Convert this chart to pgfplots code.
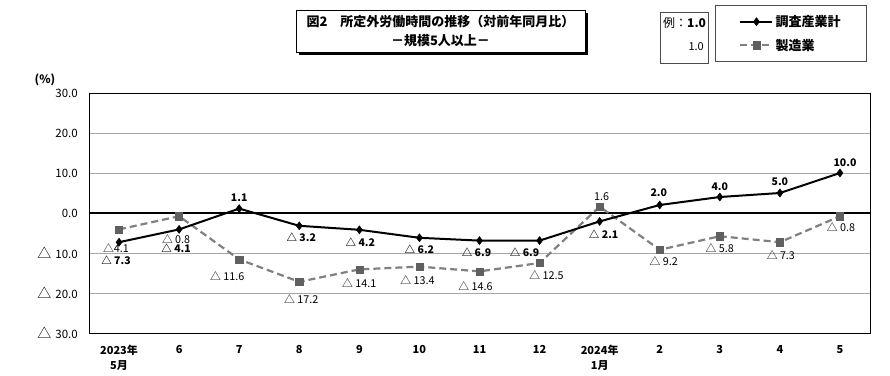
\documentclass[border=0pt]{standalone}
\usepackage{fontspec}
\setmainfont{Noto Sans CJK JP}
\usepackage{pgfplots}
\pgfplotsset{compat=1.18}
\usepackage{pgfplotstable}
\usetikzlibrary{shadows}

\definecolor{mfgline}{HTML}{808080}
\definecolor{mfgmark}{HTML}{606060}
\definecolor{gridc}{HTML}{A6A6A6}
\newcommand{\tri}{{\fontsize{14}{14}\selectfont △}}

\pgfplotstableread[col sep=comma]{
x,y,lab,dx,dy
0,-7.3,△ 7.3,-3,-18
1,-4.1,△ 4.1,-3,-19
2,1.1,1.1,0,11
3,-3.2,△ 3.2,2,-11.5
4,-4.2,△ 4.2,1,-12
5,-6.2,△ 6.2,0,-11
6,-6.9,△ 6.9,-3,-12
7,-6.9,△ 6.9,-15,-11.5
8,-2.1,△ 2.1,4,-12.5
9,2.0,2.0,-1,12.7
10,4.0,4.0,0,10.6
11,5.0,5.0,0,11
12,10.0,10.0,5,10.6
}\totaltab

\pgfplotstableread[col sep=comma]{
x,y,lab,dx,dy
0,-4.1,△4.1,-3,-19
1,-0.8,△ 0.8,-3,-23
2,-11.6,△ 11.6,-12,-17
3,-17.2,△ 17.2,2,-17
4,-14.1,△ 14.1,0,-14
5,-13.4,△ 13.4,-2,-14
6,-14.6,△ 14.6,-4,-15
7,-12.5,△ 12.5,7,-12.5
8,1.6,1.6,2,10
9,-9.2,△ 9.2,4,-11.5
10,-5.8,△ 5.8,0,-12
11,-7.3,△ 7.3,1,-12.5
12,-0.8,△ 0.8,1,-11
}\mfgtab

\begin{document}
\begin{tikzpicture}
\useasboundingbox[fill=white] (0pt,0pt) rectangle (890pt,375pt);
\begin{axis}[
  at={(89pt,42pt)}, anchor=south west,
  width=781pt, height=240pt, scale only axis,
  xmin=-0.5, xmax=12.5, ymin=-30, ymax=30,
  axis line style={black, line width=0.8pt},
  major tick length=0pt,
  xtick={0,...,12},
  xticklabels={{2023年\\5月},6,7,8,9,10,11,12,{2024年\\1月},2,3,4,5},
  xticklabel style={align=center, font=\bfseries\fontsize{11}{15}\selectfont, inner sep=0pt, yshift=-12pt},
  ytick={-30,-20,...,30},
  yticklabels={{\tri\kern4pt 30.0},{\tri\kern4pt 20.0},{\tri\kern4pt 10.0},0.0,10.0,20.0,30.0},
  yticklabel style={font=\fontsize{11.5}{13}\selectfont, inner sep=0pt, xshift=-11pt},
  ymajorgrids, major grid style={gridc, line width=0.7pt},
  extra y ticks={0}, extra y tick labels={},
  extra y tick style={grid=major, major grid style={black, line width=1.1pt}},
  legend style={at={(rel axis cs:0.8015,1.3667)}, anchor=north west,
    draw=black!70, line width=0.8pt, font=\bfseries\fontsize{13}{15}\selectfont,
    inner xsep=24pt, inner ysep=8pt, row sep=7pt, nodes={inner sep=2pt}},
  legend cell align=left,
  reverse legend,
  legend image code/.code={\draw[mark repeat=2, mark phase=2] plot coordinates {(0pt,0pt) (16pt,0pt) (32pt,0pt)};},
  clip=false,
]
\addplot[mfgline, line width=2.2pt, dash pattern=on 7pt off 4pt,
  mark=square*, mark size=3.6pt, mark options={solid, fill=mfgmark, draw=mfgmark, line width=0.5pt}]
  table[x=x, y=y] {\mfgtab};
\addlegendentry{製造業}
\addplot[black, line width=2pt,
  mark=diamond*, mark size=4pt, mark options={solid, fill=black, line width=0.5pt}]
  table[x=x, y=y] {\totaltab};
\addlegendentry{調査産業計}
% data labels
\addplot[forget plot, draw=none, mark=none,
  nodes near coords, point meta=explicit symbolic,
  visualization depends on={\thisrow{dx} \as \dxv},
  visualization depends on={\thisrow{dy} \as \dyv},
  every node near coord/.append style={anchor=center, xshift=\dxv pt, yshift=\dyv pt,
    font=\fontsize{10.8}{12}\selectfont, text=black, inner sep=0pt}]
  table[x=x, y=y, meta=lab] {\mfgtab};
\addplot[forget plot, draw=none, mark=none,
  nodes near coords, point meta=explicit symbolic,
  visualization depends on={\thisrow{dx} \as \dxv},
  visualization depends on={\thisrow{dy} \as \dyv},
  every node near coord/.append style={anchor=center, xshift=\dxv pt, yshift=\dyv pt,
    font=\bfseries\fontsize{10.5}{12}\selectfont, text=black, inner sep=0pt}]
  table[x=x, y=y, meta=lab] {\totaltab};
\end{axis}
\node[draw=black, line width=0.8pt, fill=white,
  drop shadow={shadow xshift=3pt, shadow yshift=-3pt, fill=black, opacity=1},
  minimum width=289pt, minimum height=42pt, align=center, inner sep=0pt,
  font=\bfseries\fontsize{13}{19}\selectfont] at (440.5pt,344pt)
  {図2　所定外労働時間の推移（対前年同月比）\\－規模5人以上－};
\draw[black!70, line width=0.8pt] (660pt,312pt) rectangle (708pt,363pt);
\node[anchor=base west, inner sep=0pt, font=\fontsize{12}{14}\selectfont] at (663pt,347pt) {例：\textbf{1.0}};
\node[anchor=base east, inner sep=0pt, font=\fontsize{11}{13}\selectfont] at (704pt,324pt) {1.0};
\node[font=\bfseries\fontsize{11.5}{13}\selectfont] at (45pt,295pt) {(\%)};
\end{tikzpicture}
\end{document}
